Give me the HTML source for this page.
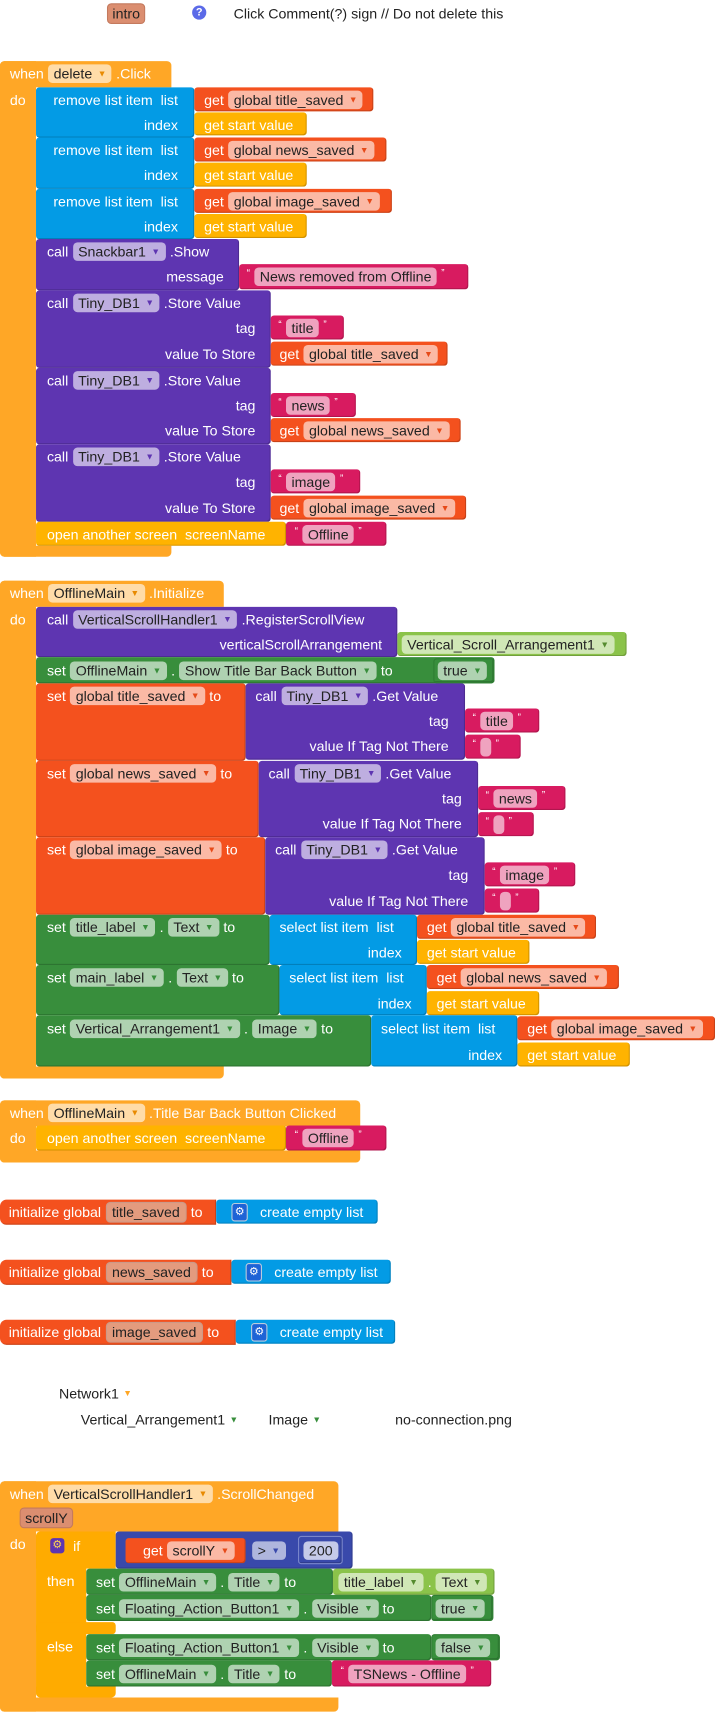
<!DOCTYPE html>
<html><head><meta charset="utf-8"><style>
html,body{margin:0;padding:0;background:#fff;width:715px;height:1712px;overflow:hidden}
#c{position:absolute;left:0;top:0;width:655px;height:1568px;transform:scale(1.0916);transform-origin:0 0;font-family:"Liberation Sans",Arial,sans-serif}
.b{position:absolute;box-sizing:border-box;border-radius:3px;box-shadow:inset -1px -1px 0 rgba(0,0,0,.18)}
.b.O,.b.IF{box-shadow:none}
.IF{background:#FFAB00}
.t{position:absolute;display:flex;align-items:center;white-space:nowrap;color:#fff;font-size:13px;gap:4px;height:22px}
.r{justify-content:flex-end}
.p{background:rgba(255,255,255,.6);color:#222;border-radius:4px;padding:0 5px;height:17px;line-height:17px;display:inline-flex;align-items:center;gap:5px}
.p i{font-style:normal;font-size:8px;color:var(--c)}
.O{background:#FFA726;--c:#e88a00}.B{background:#039BE5;--c:#0277bd}.R{background:#F4511E;--c:#e64a19}
.Y{background:#FFB300;--c:#e09000}.P{background:#5E35B1;--c:#5E35B1}.K{background:#D81B60;--c:#D81B60}
.G{background:#388E3C;--c:#388E3C}.L{background:#8BC34A;--c:#558B2F}.D{background:#3949AB;--c:#3949AB}
.q{font-size:9px;align-self:flex-start;margin-top:3px}
.k{color:#222;font-size:13px}
.gear{display:inline-flex;width:13px;height:15px;border-radius:3px;background:#1E63D6;border:1px solid #bcd;color:#fff;font-size:10px;align-items:center;justify-content:center}
</style></head><body><div id="c">

<!-- intro -->
<div class="t" style="left:98px;top:1px"><span class="p" style="background:#DB8E70;border:1px solid #c47a5e;padding:0 4px">intro</span></div>
<div style="position:absolute;left:176px;top:5px;width:13px;height:13px;border-radius:50%;background:#5B6AE8;color:#fff;font-size:10px;font-weight:bold;text-align:center;line-height:13px">?</div>
<div class="t k" style="left:214px;top:1px">Click Comment(?) sign // Do not delete this</div>

<!-- event 1 -->
<div class="b O" style="left:0;top:56px;width:157px;height:24px;border-radius:4px 4px 0 0"></div>
<div class="b O" style="left:0;top:56px;width:33px;height:454px;border-radius:4px 0 0 4px"></div>
<div class="b O" style="left:0;top:500px;width:157px;height:10px;border-radius:0 0 4px 4px"></div>
<div class="t O" style="background:none;left:9px;top:56px">when <span class="p">delete <i>▼</i></span> .Click</div>
<div class="t" style="left:9px;top:80px">do</div>

<div class="b B" style="left:33px;top:80px;width:145px;height:46px"></div>
<div class="t r" style="left:33px;width:130px;top:80px">remove list item&nbsp; list</div>
<div class="t r" style="left:33px;width:130px;top:103px">index</div>
<div class="b B" style="left:33px;top:126px;width:145px;height:47px"></div>
<div class="t r" style="left:33px;width:130px;top:126px">remove list item&nbsp; list</div>
<div class="t r" style="left:33px;width:130px;top:149px">index</div>
<div class="b B" style="left:33px;top:173px;width:145px;height:46px"></div>
<div class="t r" style="left:33px;width:130px;top:173px">remove list item&nbsp; list</div>
<div class="t r" style="left:33px;width:130px;top:196px">index</div>

<div class="b R" style="left:178px;top:80px;width:164px;height:22px"></div>
<div class="t R" style="background:none;left:187px;top:80px">get <span class="p">global title_saved <i>▼</i></span></div>
<div class="b Y" style="left:178px;top:103px;width:103px;height:21px"></div>
<div class="t" style="left:187px;top:103px">get start value</div>
<div class="b R" style="left:178px;top:126px;width:176px;height:22px"></div>
<div class="t R" style="background:none;left:187px;top:126px">get <span class="p">global news_saved <i>▼</i></span></div>
<div class="b Y" style="left:178px;top:149px;width:103px;height:22px"></div>
<div class="t" style="left:187px;top:149px">get start value</div>
<div class="b R" style="left:178px;top:173px;width:181px;height:22px"></div>
<div class="t R" style="background:none;left:187px;top:173px">get <span class="p">global image_saved <i>▼</i></span></div>
<div class="b Y" style="left:178px;top:196px;width:103px;height:22px"></div>
<div class="t" style="left:187px;top:196px">get start value</div>

<div class="b P" style="left:33px;top:219px;width:186px;height:47px"></div>
<div class="t P" style="background:none;left:43px;top:219px">call <span class="p">Snackbar1 <i>▼</i></span> .Show</div>
<div class="t r" style="left:33px;width:172px;top:242px">message</div>
<div class="b K" style="left:219px;top:242px;width:210px;height:23px"></div>
<div class="t K" style="background:none;left:226px;top:242px"><span class="q">“</span><span class="p">News removed from Offline</span><span class="q">”</span></div>

<div class="b P" style="left:33px;top:266px;width:215px;height:71px"></div>
<div class="t P" style="background:none;left:43px;top:266px">call <span class="p">Tiny_DB1 <i>▼</i></span> .Store Value</div>
<div class="t r" style="left:33px;width:201px;top:289px">tag</div>
<div class="t r" style="left:33px;width:201px;top:313px">value To Store</div>
<div class="b K" style="left:248px;top:289px;width:67px;height:22px"></div>
<div class="t K" style="background:none;left:255px;top:289px"><span class="q">“</span><span class="p">title</span><span class="q">”</span></div>
<div class="b R" style="left:248px;top:313px;width:162px;height:22px"></div>
<div class="t R" style="background:none;left:256px;top:313px">get <span class="p">global title_saved <i>▼</i></span></div>

<div class="b P" style="left:33px;top:337px;width:215px;height:70px"></div>
<div class="t P" style="background:none;left:43px;top:337px">call <span class="p">Tiny_DB1 <i>▼</i></span> .Store Value</div>
<div class="t r" style="left:33px;width:201px;top:360px">tag</div>
<div class="t r" style="left:33px;width:201px;top:383px">value To Store</div>
<div class="b K" style="left:248px;top:360px;width:78px;height:22px"></div>
<div class="t K" style="background:none;left:255px;top:360px"><span class="q">“</span><span class="p">news</span><span class="q">”</span></div>
<div class="b R" style="left:248px;top:383px;width:174px;height:22px"></div>
<div class="t R" style="background:none;left:256px;top:383px">get <span class="p">global news_saved <i>▼</i></span></div>

<div class="b P" style="left:33px;top:407px;width:215px;height:71px"></div>
<div class="t P" style="background:none;left:43px;top:407px">call <span class="p">Tiny_DB1 <i>▼</i></span> .Store Value</div>
<div class="t r" style="left:33px;width:201px;top:430px">tag</div>
<div class="t r" style="left:33px;width:201px;top:454px">value To Store</div>
<div class="b K" style="left:248px;top:430px;width:82px;height:22px"></div>
<div class="t K" style="background:none;left:255px;top:430px"><span class="q">“</span><span class="p">image</span><span class="q">”</span></div>
<div class="b R" style="left:248px;top:454px;width:179px;height:22px"></div>
<div class="t R" style="background:none;left:256px;top:454px">get <span class="p">global image_saved <i>▼</i></span></div>

<div class="b Y" style="left:33px;top:478px;width:229px;height:22px"></div>
<div class="t" style="left:43px;top:478px">open another screen&nbsp; screenName</div>
<div class="b K" style="left:262px;top:478px;width:92px;height:22px"></div>
<div class="t K" style="background:none;left:270px;top:478px"><span class="q">“</span><span class="p">Offline</span><span class="q">”</span></div>

<!-- event 2 -->
<div class="b O" style="left:0;top:532px;width:205px;height:24px;border-radius:4px 4px 0 0"></div>
<div class="b O" style="left:0;top:532px;width:33px;height:456px;border-radius:4px 0 0 4px"></div>
<div class="b O" style="left:0;top:977px;width:205px;height:11px;border-radius:0 0 4px 4px"></div>
<div class="t O" style="background:none;left:9px;top:532px">when <span class="p">OfflineMain <i>▼</i></span> .Initialize</div>
<div class="t" style="left:9px;top:556px">do</div>

<div class="b P" style="left:33px;top:556px;width:331px;height:46px"></div>
<div class="t P" style="background:none;left:43px;top:556px">call <span class="p">VerticalScrollHandler1 <i>▼</i></span> .RegisterScrollView</div>
<div class="t r" style="left:33px;width:317px;top:579px">verticalScrollArrangement</div>
<div class="b L" style="left:364px;top:579px;width:210px;height:22px"></div>
<div class="t L" style="background:none;left:368px;top:579px"><span class="p">Vertical_Scroll_Arrangement1 <i>▼</i></span></div>

<div class="b G" style="left:33px;top:602px;width:420px;height:24px"></div>
<div class="t G" style="background:none;left:43px;top:603px">set <span class="p">OfflineMain <i>▼</i></span> . <span class="p">Show Title Bar Back Button <i>▼</i></span> to</div>
<div class="b G" style="left:397px;top:603px;width:56px;height:23px;border:1px solid #2e7d32"></div>
<div class="t G" style="background:none;left:401px;top:603px"><span class="p">true <i>▼</i></span></div>

<div class="b R" style="left:33px;top:626px;width:192px;height:71px"></div>
<div class="t R" style="background:none;left:43px;top:626px">set <span class="p">global title_saved <i>▼</i></span> to</div>
<div class="b P" style="left:225px;top:626px;width:201px;height:70px"></div>
<div class="t P" style="background:none;left:234px;top:626px">call <span class="p">Tiny_DB1 <i>▼</i></span> .Get Value</div>
<div class="t r" style="left:225px;width:186px;top:649px">tag</div>
<div class="t r" style="left:225px;width:186px;top:672px">value If Tag Not There</div>
<div class="b K" style="left:426px;top:649px;width:68px;height:22px"></div>
<div class="t K" style="background:none;left:433px;top:649px"><span class="q">“</span><span class="p">title</span><span class="q">”</span></div>
<div class="b K" style="left:426px;top:673px;width:51px;height:22px"></div>
<div class="t K" style="background:none;left:433px;top:673px"><span class="q">“</span><span class="p" style="padding:0 5px"></span><span class="q">”</span></div>

<div class="b R" style="left:33px;top:697px;width:204px;height:70px"></div>
<div class="t R" style="background:none;left:43px;top:697px">set <span class="p">global news_saved <i>▼</i></span> to</div>
<div class="b P" style="left:237px;top:697px;width:201px;height:70px"></div>
<div class="t P" style="background:none;left:246px;top:697px">call <span class="p">Tiny_DB1 <i>▼</i></span> .Get Value</div>
<div class="t r" style="left:237px;width:186px;top:720px">tag</div>
<div class="t r" style="left:237px;width:186px;top:743px">value If Tag Not There</div>
<div class="b K" style="left:438px;top:720px;width:80px;height:22px"></div>
<div class="t K" style="background:none;left:445px;top:720px"><span class="q">“</span><span class="p">news</span><span class="q">”</span></div>
<div class="b K" style="left:438px;top:744px;width:51px;height:22px"></div>
<div class="t K" style="background:none;left:445px;top:744px"><span class="q">“</span><span class="p" style="padding:0 5px"></span><span class="q">”</span></div>

<div class="b R" style="left:33px;top:767px;width:210px;height:71px"></div>
<div class="t R" style="background:none;left:43px;top:767px">set <span class="p">global image_saved <i>▼</i></span> to</div>
<div class="b P" style="left:243px;top:767px;width:201px;height:71px"></div>
<div class="t P" style="background:none;left:252px;top:767px">call <span class="p">Tiny_DB1 <i>▼</i></span> .Get Value</div>
<div class="t r" style="left:243px;width:186px;top:790px">tag</div>
<div class="t r" style="left:243px;width:186px;top:814px">value If Tag Not There</div>
<div class="b K" style="left:444px;top:790px;width:83px;height:22px"></div>
<div class="t K" style="background:none;left:451px;top:790px"><span class="q">“</span><span class="p">image</span><span class="q">”</span></div>
<div class="b K" style="left:444px;top:814px;width:50px;height:22px"></div>
<div class="t K" style="background:none;left:451px;top:814px"><span class="q">“</span><span class="p" style="padding:0 5px"></span><span class="q">”</span></div>

<div class="b G" style="left:33px;top:838px;width:214px;height:46px"></div>
<div class="t G" style="background:none;left:43px;top:838px">set <span class="p">title_label <i>▼</i></span> . <span class="p">Text <i>▼</i></span> to</div>
<div class="b B" style="left:247px;top:838px;width:135px;height:46px"></div>
<div class="t" style="left:256px;top:838px">select list item&nbsp; list</div>
<div class="t r" style="left:247px;width:121px;top:861px">index</div>
<div class="b R" style="left:382px;top:838px;width:164px;height:22px"></div>
<div class="t R" style="background:none;left:391px;top:838px">get <span class="p">global title_saved <i>▼</i></span></div>
<div class="b Y" style="left:382px;top:861px;width:103px;height:22px"></div>
<div class="t" style="left:391px;top:861px">get start value</div>

<div class="b G" style="left:33px;top:884px;width:223px;height:46px"></div>
<div class="t G" style="background:none;left:43px;top:884px">set <span class="p">main_label <i>▼</i></span> . <span class="p">Text <i>▼</i></span> to</div>
<div class="b B" style="left:256px;top:884px;width:135px;height:46px"></div>
<div class="t" style="left:265px;top:884px">select list item&nbsp; list</div>
<div class="t r" style="left:256px;width:121px;top:908px">index</div>
<div class="b R" style="left:391px;top:884px;width:176px;height:22px"></div>
<div class="t R" style="background:none;left:400px;top:884px">get <span class="p">global news_saved <i>▼</i></span></div>
<div class="b Y" style="left:391px;top:908px;width:103px;height:22px"></div>
<div class="t" style="left:400px;top:908px">get start value</div>

<div class="b G" style="left:33px;top:930px;width:307px;height:47px"></div>
<div class="t G" style="background:none;left:43px;top:931px">set <span class="p">Vertical_Arrangement1 <i>▼</i></span> . <span class="p">Image <i>▼</i></span> to</div>
<div class="b B" style="left:340px;top:930px;width:134px;height:47px"></div>
<div class="t" style="left:349px;top:931px">select list item&nbsp; list</div>
<div class="t r" style="left:340px;width:120px;top:955px">index</div>
<div class="b R" style="left:474px;top:931px;width:181px;height:22px"></div>
<div class="t R" style="background:none;left:483px;top:931px">get <span class="p">global image_saved <i>▼</i></span></div>
<div class="b Y" style="left:474px;top:955px;width:103px;height:22px"></div>
<div class="t" style="left:483px;top:955px">get start value</div>

<!-- event 3 -->
<div class="b O" style="left:0;top:1008px;width:330px;height:24px;border-radius:4px 4px 0 0"></div>
<div class="b O" style="left:0;top:1008px;width:33px;height:57px;border-radius:4px 0 0 4px"></div>
<div class="b O" style="left:0;top:1054px;width:330px;height:11px;border-radius:0 0 4px 4px"></div>
<div class="t O" style="background:none;left:9px;top:1008px">when <span class="p">OfflineMain <i>▼</i></span> .Title Bar Back Button Clicked</div>
<div class="t" style="left:9px;top:1031px">do</div>
<div class="b Y" style="left:33px;top:1031px;width:229px;height:23px"></div>
<div class="t" style="left:43px;top:1031px">open another screen&nbsp; screenName</div>
<div class="b K" style="left:262px;top:1031px;width:92px;height:23px"></div>
<div class="t K" style="background:none;left:270px;top:1031px"><span class="q">“</span><span class="p">Offline</span><span class="q">”</span></div>

<!-- globals -->
<div class="b R" style="left:0;top:1099px;width:198px;height:23px;border-radius:6px 0 0 6px"></div>
<div class="t" style="left:8px;top:1099px">initialize global <span class="p" style="background:#E39B7E;border:1px solid #c98">title_saved</span> to</div>
<div class="b B" style="left:198px;top:1099px;width:148px;height:22px"></div>
<div class="t" style="left:212px;top:1099px"><span class="gear">⚙</span>&nbsp; create empty list</div>

<div class="b R" style="left:0;top:1154px;width:212px;height:23px;border-radius:6px 0 0 6px"></div>
<div class="t" style="left:8px;top:1154px">initialize global <span class="p" style="background:#E39B7E;border:1px solid #c98">news_saved</span> to</div>
<div class="b B" style="left:212px;top:1154px;width:146px;height:22px"></div>
<div class="t" style="left:225px;top:1154px"><span class="gear">⚙</span>&nbsp; create empty list</div>

<div class="b R" style="left:0;top:1209px;width:216px;height:23px;border-radius:6px 0 0 6px"></div>
<div class="t" style="left:8px;top:1209px">initialize global <span class="p" style="background:#E39B7E;border:1px solid #c98">image_saved</span> to</div>
<div class="b B" style="left:216px;top:1209px;width:146px;height:22px"></div>
<div class="t" style="left:230px;top:1209px"><span class="gear">⚙</span>&nbsp; create empty list</div>

<!-- loose text -->
<div class="t k" style="left:54px;top:1265px">Network1 <span style="color:#FFA726;font-size:8px">▼</span></div>
<div class="t k" style="left:74px;top:1289px">Vertical_Arrangement1 <span style="color:#388E3C;font-size:8px">▼</span></div>
<div class="t k" style="left:246px;top:1289px">Image <span style="color:#388E3C;font-size:8px">▼</span></div>
<div class="t k" style="left:362px;top:1289px">no-connection.png</div>

<!-- event 4 -->
<div class="b O" style="left:0;top:1357px;width:310px;height:46px;border-radius:4px 4px 0 0"></div>
<div class="b O" style="left:0;top:1357px;width:33px;height:211px;border-radius:4px 0 0 4px"></div>
<div class="b O" style="left:0;top:1555px;width:310px;height:13px;border-radius:0 0 4px 4px"></div>
<div class="t O" style="background:none;left:9px;top:1357px">when <span class="p">VerticalScrollHandler1 <i>▼</i></span> .ScrollChanged</div>
<div class="t" style="left:18px;top:1379px"><span class="p" style="background:#DB8E70;border:1px solid #c47a5e;padding:0 4px">scrollY</span></div>
<div class="t" style="left:9px;top:1403px">do</div>

<div class="b IF" style="left:33px;top:1403px;width:73px;height:34px;border-radius:4px 0 0 0"></div>
<div class="b IF" style="left:33px;top:1403px;width:46px;height:152px;border-radius:4px 0 0 4px"></div>
<div class="b IF" style="left:33px;top:1486px;width:73px;height:11px"></div>
<div class="b IF" style="left:33px;top:1545px;width:73px;height:10px;border-radius:0 0 4px 4px"></div>
<div style="position:absolute;left:46px;top:1409px;width:13px;height:14px;border-radius:3px;background:#5E35B1;color:#FFD54F;font-size:10px;line-height:14px;text-align:center">⚙</div>
<div class="t" style="left:67px;top:1405px">if</div>
<div class="t" style="left:43px;top:1437px">then</div>
<div class="t" style="left:43px;top:1497px">else</div>

<div class="b D" style="left:106px;top:1403px;width:217px;height:34px"></div>
<div class="b R" style="left:115px;top:1409px;width:110px;height:23px"></div>
<div class="t R" style="background:none;left:131px;top:1409px">get <span class="p">scrollY <i>▼</i></span></div>
<div class="t D" style="background:none;left:231px;top:1409px"><span class="p" style="background:rgba(255,255,255,.6)">&gt; <i>▼</i></span></div>
<div class="b D" style="left:273px;top:1407px;width:41px;height:26px;border:1px solid #7986CB"></div>
<div class="t" style="left:278px;top:1409px"><span class="p" style="background:#C5CAE9">200</span></div>

<div class="b G" style="left:79px;top:1437px;width:226px;height:24px"></div>
<div class="t G" style="background:none;left:88px;top:1438px">set <span class="p">OfflineMain <i>▼</i></span> . <span class="p">Title <i>▼</i></span> to</div>
<div class="b L" style="left:305px;top:1437px;width:148px;height:24px"></div>
<div class="t L" style="background:none;left:310px;top:1438px"><span class="p">title_label <i>▼</i></span> . <span class="p">Text <i>▼</i></span></div>

<div class="b G" style="left:79px;top:1461px;width:316px;height:24px"></div>
<div class="t G" style="background:none;left:88px;top:1462px">set <span class="p">Floating_Action_Button1 <i>▼</i></span> . <span class="p">Visible <i>▼</i></span> to</div>
<div class="b G" style="left:395px;top:1461px;width:57px;height:24px;border:1px solid #2e7d32"></div>
<div class="t G" style="background:none;left:399px;top:1462px"><span class="p">true <i>▼</i></span></div>

<div class="b G" style="left:79px;top:1497px;width:316px;height:24px"></div>
<div class="t G" style="background:none;left:88px;top:1498px">set <span class="p">Floating_Action_Button1 <i>▼</i></span> . <span class="p">Visible <i>▼</i></span> to</div>
<div class="b G" style="left:395px;top:1497px;width:63px;height:24px;border:1px solid #2e7d32"></div>
<div class="t G" style="background:none;left:399px;top:1498px"><span class="p">false <i>▼</i></span></div>

<div class="b G" style="left:79px;top:1521px;width:225px;height:24px"></div>
<div class="t G" style="background:none;left:88px;top:1522px">set <span class="p">OfflineMain <i>▼</i></span> . <span class="p">Title <i>▼</i></span> to</div>
<div class="b K" style="left:304px;top:1521px;width:146px;height:24px"></div>
<div class="t K" style="background:none;left:312px;top:1522px"><span class="q">“</span><span class="p">TSNews - Offline</span><span class="q">”</span></div>

</div></body></html>
